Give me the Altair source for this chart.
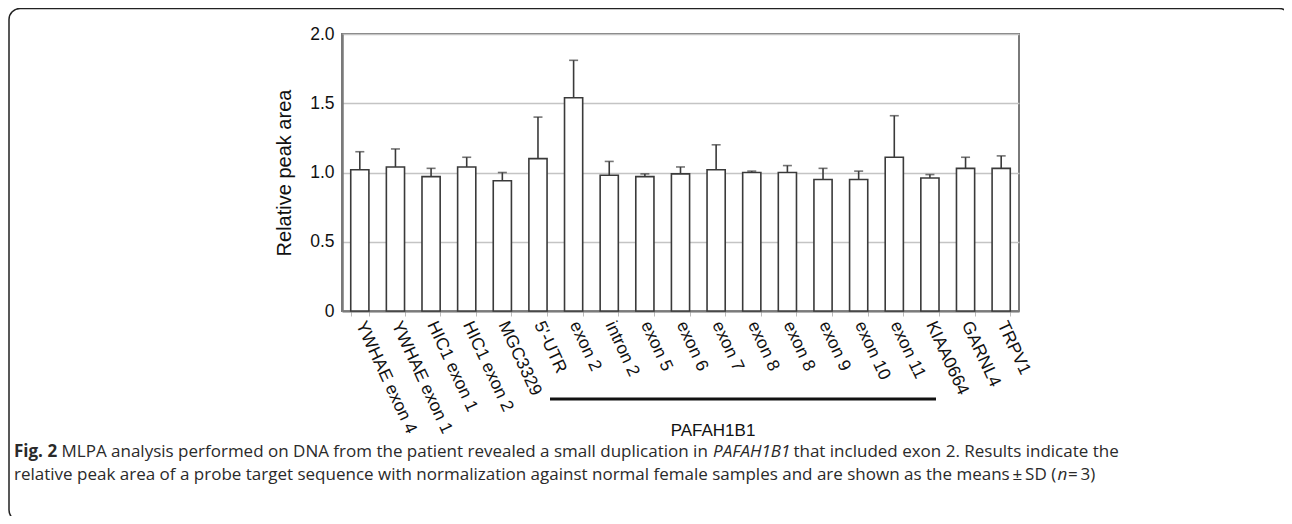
import json
import altair as alt
import pandas as pd

labels = ["YWHAE exon 4", "YWHAE exon 1", "HIC1 exon 1", "HIC1 exon 2", "MGC3329",
          "5'-UTR", "exon 2", "intron 2", "exon 5", "exon 6", "exon 7", "exon 8",
          "exon 8", "exon 9", "exon 10", "exon 11", "KIAA0664", "GARNL4", "TRPV1"]
means = [1.02, 1.04, 0.97, 1.04, 0.94, 1.10, 1.54, 0.98, 0.97, 0.99, 1.02, 1.00,
         1.00, 0.95, 0.95, 1.11, 0.96, 1.03, 1.03]
sds = [0.13, 0.13, 0.06, 0.07, 0.06, 0.30, 0.27, 0.10, 0.02, 0.05, 0.18, 0.01,
       0.05, 0.08, 0.06, 0.30, 0.025, 0.08, 0.09]
y_ticks = [0, 0.5, 1.0, 1.5, 2.0]

gene_label = "PAFAH1B1"
# caption pieces: (text, style, gap_before_px)
caption1 = [("Fig. 2", "bold", 0),
            ("MLPA analysis performed on DNA from the patient revealed a small duplication in", "normal", 4.5),
            ("PAFAH1B1", "italic", 9),
            ("that included exon 2. Results indicate the", "normal", 5)]
caption2 = [("relative peak area of a probe target sequence with normalization against normal female samples and are shown as the means\u2009\u00b1\u2009SD (", "normal", 0),
            ("n", "italic", 6),
            ("\u2009=\u20093)", "normal", 1)]

df = pd.DataFrame({
    "idx": list(range(len(labels))),
    "label": labels,
    "mean": means,
    "top": [m + s for m, s in zip(means, sds)],
})

W, H = 677, 277
label_expr = "[" + ",".join(json.dumps(l) for l in labels) + "][datum.value]"

xenc = alt.X("idx:O",
             scale=alt.Scale(paddingInner=0.49, paddingOuter=0.245),
             axis=alt.Axis(title=None, labelExpr=label_expr, labelAngle=65,
                           labelAlign="left", labelBaseline="middle",
                           labelFont="Liberation Sans", labelFontSize=17.5,
                           labelColor="#111", labelPadding=6,
                           tickBand="extent", tickSize=5, tickColor="#bbbbbb",
                           domainColor="#7a7a7a", domainWidth=2, grid=False))
yscale = alt.Scale(domain=[0, 2])

base = alt.Chart(df)

bars = base.mark_bar(fill="white", stroke="#3a3a3a", strokeWidth=1.6).encode(
    x=xenc,
    y=alt.Y("mean:Q", scale=yscale,
            axis=alt.Axis(title="Relative peak area", values=y_ticks,
                          labelExpr="datum.value == 0 ? '0' : format(datum.value, '.1f')",
                          labelFont="Liberation Sans", labelFontSize=17.5, labelColor="#111",
                          labelPadding=8, ticks=False,
                          titleFont="Liberation Sans", titleFontSize=20, titleFontWeight="normal",
                          titleColor="#111", titlePadding=15,
                          domainColor="#7a7a7a", domainWidth=2.5,
                          grid=True, gridColor="#c4c4c4", gridWidth=1.3)),
)

err = base.mark_rule(color="#3a3a3a", strokeWidth=1.6).encode(
    x="idx:O", y="mean:Q", y2="top:Q")
caps = base.mark_tick(color="#3a3a3a", thickness=1.6, size=9).encode(
    x="idx:O", y=alt.Y("top:Q", scale=yscale))

one = alt.Chart(pd.DataFrame({"a": [0]}))

gene_line = one.mark_rule(color="#111", strokeWidth=3).encode(
    x=alt.value(208), x2=alt.value(594), y=alt.value(365))
gene_text = one.mark_text(font="Liberation Sans", fontSize=17, color="#111",
                          align="center", baseline="middle").encode(
    x=alt.value(371), y=alt.value(397), text=alt.value(gene_label))

# approximate Open Sans advance widths (units per 2048 em) for laying out mixed-style caption runs
_W = {" ": 532, "(": 604, ")": 604, ",": 500, "-": 659, ".": 545, "=": 1171, "\u00b1": 1171,
      "\u2009": 400, "A": 1296, "B": 1327, "D": 1493, "F": 1057, "H": 1511, "L": 1073,
      "M": 1849, "N": 1538, "P": 1260, "R": 1292, "S": 1208,
      "a": 1139, "b": 1255, "c": 975, "d": 1255, "e": 1149, "f": 694, "g": 1122, "h": 1257,
      "i": 518, "k": 1075, "l": 518, "m": 1905, "n": 1257, "o": 1237, "p": 1255, "q": 1255,
      "r": 836, "s": 977, "t": 723, "u": 1257, "v": 1026, "w": 1593, "x": 1073, "y": 1028,
      "z": 964}
_BOLD = {"F": 1167, "i": 575, "g": 1145, ".": 586, " ": 532}


def run_width(txt, style, size):
    tot = 0
    for ch in txt:
        if ch.isdigit():
            w = 1171
        elif style == "bold" and ch in _BOLD:
            w = _BOLD[ch]
        else:
            w = _W.get(ch, 1150)
        tot += w
    scale = {"normal": 0.993, "bold": 1.0, "italic": 0.9}[style]
    return tot / 2048 * size * scale


cap_font = "Open Sans"
cap_size = 17
cap_color = "#2a2a2a"
cap_x0 = -328


def caption_line(parts, y):
    layers = []
    x = cap_x0
    for txt, style, gap in parts:
        x += gap
        layers.append(one.mark_text(
            font=cap_font, fontSize=cap_size, color=cap_color, align="left", baseline="middle",
            fontWeight="bold" if style == "bold" else "normal",
            fontStyle="italic" if style == "italic" else "normal").encode(
            x=alt.value(round(x, 1)), y=alt.value(y), text=alt.value(txt)))
        x += run_width(txt, style, cap_size)
    return layers


captions = caption_line(caption1, 418) + caption_line(caption2, 441)

frame = one.mark_rect(fillOpacity=0, stroke="#222", strokeWidth=1.5, cornerRadius=11).encode(
    x=alt.value(-333), x2=alt.value(948), y=alt.value(-25.5), y2=alt.value(487))

chart = alt.layer(frame, bars, err, caps, gene_line, gene_text, *captions).properties(
    width=W, height=H,
    autosize=alt.AutoSizeParams(type="none"),
    padding={"left": 334, "top": 26, "right": 1276 - 334 - W, "bottom": 508 - 26 - H},
    background="white",
).configure_view(stroke="#7a7a7a", strokeWidth=2)

chart.save("out.html", embed_options={"renderer": "svg", "actions": False})
